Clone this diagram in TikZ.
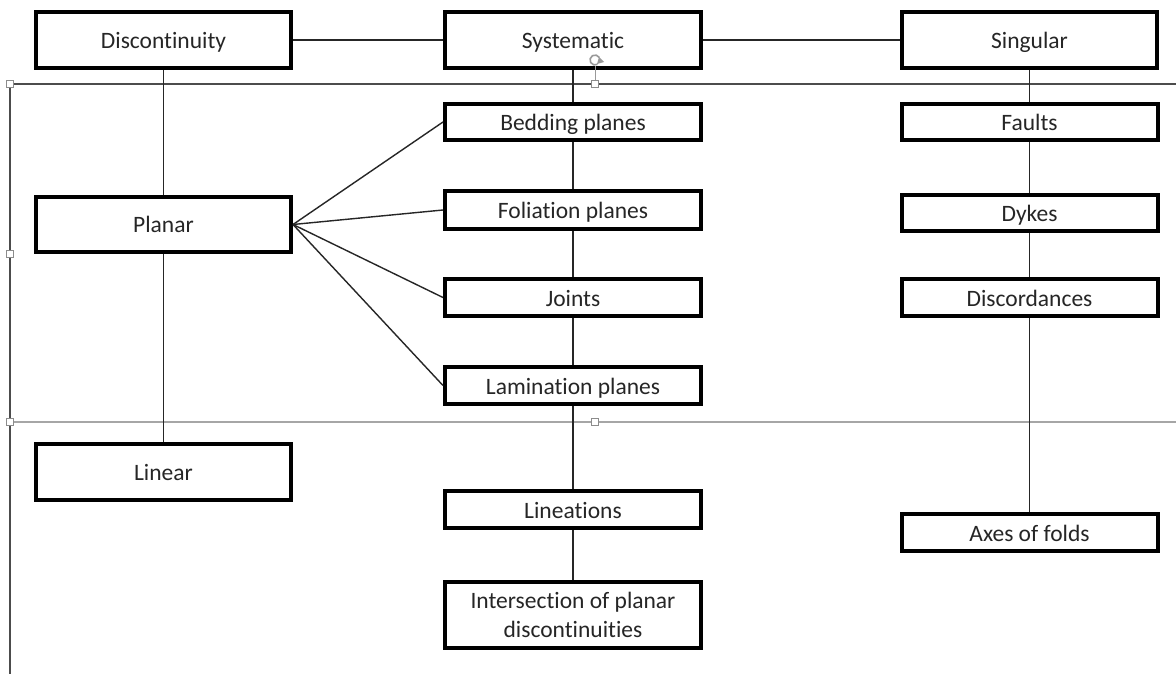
\documentclass[tikz,border=0pt]{standalone}
\usepackage{fontspec}
\setmainfont{Carlito}[Ligatures={NoCommon}]
\begin{document}
\begin{tikzpicture}[x=1pt,y=-1pt,
  bx/.style={draw=black,line width=4pt,fill=white,rectangle,inner sep=0pt,align=center,
    font=\fontsize{23.5}{29}\selectfont,text=black!85},
  one/.style={text height=17pt,text depth=0pt},
  conn/.style={draw=black!85,line width=1.4pt},
  selline/.style={line width=1.3pt},
  handle/.style={draw=black!45,fill=white,line width=0.9pt,minimum size=7pt,inner sep=0pt,rectangle}]
\useasboundingbox (0,0) rectangle (1176,674);
\fill[white] (0,0) rectangle (1176,674);
% selection frame
\coordinate (fa) at (10,84);
\coordinate (fb) at (1176,84);
\coordinate (fc) at (10,674);
\coordinate (fd) at (10,422);
\coordinate (fe) at (1176,422);
\draw[selline,draw=black!70] (fb) -- (fa) -- (fc);
\draw[selline,draw=black!35] (fd) -- (fe);
% boxes
\node[bx,one,minimum width=255pt,minimum height=56pt] (disc) at (163.5,40) {Discontinuity};
\node[bx,one,minimum width=256pt,minimum height=56pt] (sys) at (573,40) {Systematic};
\node[bx,one,minimum width=255pt,minimum height=56pt] (sing) at (1029.5,40) {Singular};
\node[bx,one,minimum width=255pt,minimum height=55pt] (plan) at (163.5,224.5) {Planar};
\node[bx,one,minimum width=255pt,minimum height=56pt] (linear) at (163.5,472) {Linear};
\node[bx,one,minimum width=256pt,minimum height=36pt] (bed) at (573,122) {Bedding planes};
\node[bx,one,minimum width=256pt,minimum height=38pt] (fol) at (573,210) {Foliation planes};
\node[bx,one,minimum width=256pt,minimum height=37pt] (joi) at (573,297.5) {Joints};
\node[bx,one,minimum width=256pt,minimum height=37pt] (lam) at (573,385.5) {Lamination planes};
\node[bx,one,minimum width=256pt,minimum height=37pt] (lin) at (573,509.5) {Lineations};
\node[bx,minimum width=256pt,minimum height=66pt] (inter) at (573,615) {Intersection of planar\\discontinuities};
\node[bx,one,minimum width=256pt,minimum height=36pt] (fau) at (1029.5,122) {Faults};
\node[bx,one,minimum width=256pt,minimum height=36pt] (dyk) at (1029.5,213) {Dykes};
\node[bx,one,minimum width=256pt,minimum height=37pt] (dis) at (1029.5,297.5) {Discordances};
\node[bx,one,minimum width=256pt,minimum height=37pt] (axe) at (1029.5,532.5) {Axes of folds};
% connectors
\draw[conn] (disc.east) -- (sys.west);
\draw[conn] (sys.east) -- (sing.west);
\draw[conn] (disc.south) -- (plan.north);
\draw[conn] (plan.south) -- (linear.north);
\draw[conn] (plan.east) -- (bed.west);
\draw[conn] (plan.east) -- (fol.west);
\draw[conn] (plan.east) -- (joi.west);
\draw[conn] (plan.east) -- (lam.west);
\draw[conn] (sys.south) -- (bed.north);
\draw[conn] (bed.south) -- (fol.north);
\draw[conn] (fol.south) -- (joi.north);
\draw[conn] (joi.south) -- (lam.north);
\draw[conn] (lam.south) -- (lin.north);
\draw[conn] (lin.south) -- (inter.north);
\draw[conn] (sing.south) -- (fau.north);
\draw[conn] (fau.south) -- (dyk.north);
\draw[conn] (dyk.south) -- (dis.north);
\draw[conn] (dis.south) -- (axe.north);
% selection handles and rotation handle (drawn on top)
\coordinate (rt) at (595,60);
\draw[draw=black!40,line width=1pt] (595,84) -- (595,66);
\draw[draw=black!40,line width=1.6pt] (rt) ++(60:5) arc (60:330:5);
\fill[black!40] (599,57) -- (604,62) -- (597,64) -- cycle;
\node[handle] (h1) at (10,84) {};
\node[handle] (h2) at (595,84) {};
\node[handle] (h3) at (10,254) {};
\node[handle] (h4) at (10,422) {};
\node[handle] (h5) at (595,422) {};
\end{tikzpicture}
\end{document}
